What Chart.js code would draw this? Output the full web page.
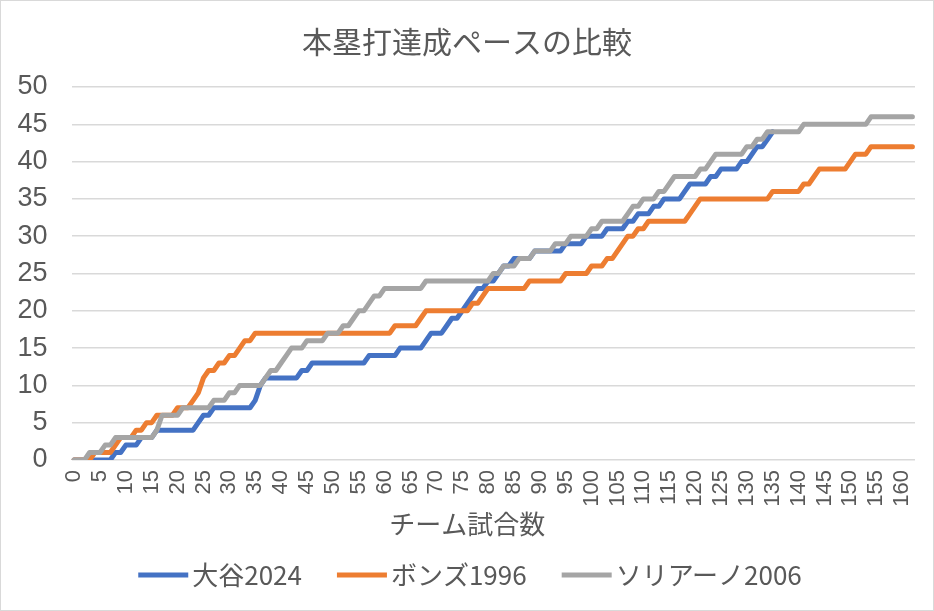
<!DOCTYPE html>
<html>
<head>
<meta charset="utf-8">
<script src="https://cdn.jsdelivr.net/npm/chart.js@4"></script>
<style>
html,body{margin:0;padding:0;background:#fff;}
#wrap{width:934px;height:611px;position:relative;}
</style>
</head>
<body>
<div id="wrap"><canvas id="c" width="934" height="611"></canvas></div>
<script>
// チーム試合数 (0..162)
const games = Array.from({length: 163}, (_, i) => String(i));
const seriesNames = ['大谷2024', 'ボンズ1996', 'ソリアーノ2006'];
const seriesColors = ['#4472C4', '#ED7D31', '#A5A5A5'];

const ohtani2024 = [
  0,0,0,0,0,0,0,0,1,1,
  2,2,2,3,3,3,4,4,4,4,
  4,4,4,4,5,6,6,7,7,7,
  7,7,7,7,7,8,10,11,11,11,
  11,11,11,11,12,12,13,13,13,13,
  13,13,13,13,13,13,13,14,14,14,
  14,14,14,15,15,15,15,15,16,17,
  17,17,18,19,19,20,21,22,23,23,
  24,24,25,26,26,27,27,27,27,28,
  28,28,28,28,28,29,29,29,29,30,
  30,30,30,31,31,31,31,32,32,33,
  33,33,34,34,35,35,35,35,36,37,
  37,37,37,38,38,39,39,39,39,40,
  40,41,42,42,43,44
];
const bonds1996 = [
  0,0,0,0,1,1,1,1,2,3,
  3,3,4,4,5,5,6,6,6,6,
  7,7,7,8,9,11,12,12,13,13,
  14,14,15,16,16,17,17,17,17,17,
  17,17,17,17,17,17,17,17,17,17,
  17,17,17,17,17,17,17,17,17,17,
  17,17,18,18,18,18,18,19,20,20,
  20,20,20,20,20,20,20,21,21,22,
  23,23,23,23,23,23,23,23,24,24,
  24,24,24,24,24,25,25,25,25,25,
  26,26,26,27,27,28,29,30,30,31,
  31,32,32,32,32,32,32,32,32,33,
  34,35,35,35,35,35,35,35,35,35,
  35,35,35,35,35,36,36,36,36,36,
  36,37,37,38,39,39,39,39,39,39,
  40,41,41,41,42,42,42,42,42,42,
  42,42,42
];
const soriano2006 = [
  0,0,0,1,1,1,2,2,3,3,
  3,3,3,3,3,3,4,6,6,6,
  6,7,7,7,7,7,7,8,8,8,
  9,9,10,10,10,10,10,11,12,12,
  13,14,15,15,15,16,16,16,16,17,
  17,17,18,18,19,20,20,21,22,22,
  23,23,23,23,23,23,23,23,24,24,
  24,24,24,24,24,24,24,24,24,24,
  24,25,25,26,26,26,27,27,27,28,
  28,28,28,29,29,29,30,30,30,30,
  31,31,32,32,32,32,32,33,34,34,
  35,35,35,36,36,37,38,38,38,38,
  38,39,39,40,41,41,41,41,41,41,
  42,42,43,43,44,44,44,44,44,44,
  44,45,45,45,45,45,45,45,45,45,
  45,45,45,45,46,46,46,46,46,46,
  46,46,46
];
const yTicks = {min: 0, max: 50, step: 5};

const TEXT = '#595959';
const JP = "'Noto Sans CJK JP', 'Noto Sans', sans-serif";
const NUM = "'Liberation Sans', Arial, sans-serif";

function legendImage(color) {
  const c = document.createElement('canvas');
  c.width = 90; c.height = 10;
  const x = c.getContext('2d');
  x.strokeStyle = color; x.lineWidth = 5; x.lineCap = 'butt';
  x.beginPath(); x.moveTo(37, 5); x.lineTo(87, 5); x.stroke();
  return c;
}
const legendImgs = seriesColors.map(legendImage);

const frame = {
  id: 'frame',
  afterLayout(chart) {
    const t = chart.titleBlock;
    if (t) { t.left = 0; t.right = chart.width; t.width = chart.width; }
  },
  beforeDraw(chart) {
    const ctx = chart.ctx;
    ctx.save(); ctx.fillStyle = '#fff'; ctx.fillRect(0, 0, chart.width, chart.height); ctx.restore();
  },
  afterDraw(chart) {
    const ctx = chart.ctx;
    ctx.save(); ctx.strokeStyle = '#D9D9D9'; ctx.lineWidth = 1;
    ctx.strokeRect(0.5, 0.5, chart.width - 1, chart.height - 1); ctx.restore();
  }
};

const allSeries = [ohtani2024, bonds1996, soriano2006];
new Chart(document.getElementById('c'), {
  type: 'line',
  data: {
    labels: games,
    datasets: allSeries.map((d, i) => ({
      label: seriesNames[i],
      data: d,
      borderColor: seriesColors[i],
      backgroundColor: seriesColors[i],
      borderWidth: 5,
      pointRadius: 0,
      pointHoverRadius: 0,
      tension: 0,
      borderJoinStyle: 'round',
      borderCapStyle: 'round',
      fill: false,
      order: 3 - i
    }))
  },
  options: {
    responsive: false,
    animation: false,
    events: [],
    layout: {padding: {left: 0, right: 19, top: 0, bottom: 13}},
    plugins: {
      title: {
        display: true,
        text: '本塁打達成ペースの比較',
        color: TEXT,
        font: {family: JP, size: 30, weight: 'normal'},
        padding: {top: 24, bottom: 27}
      },
      legend: {
        position: 'bottom',
        labels: {
          usePointStyle: true,
          pointStyleWidth: 66,
          padding: 10,
          color: TEXT,
          font: {family: JP, size: 26},
          sort: (a, b) => a.datasetIndex - b.datasetIndex,
          generateLabels(chart) {
            const items = Chart.defaults.plugins.legend.labels.generateLabels(chart);
            items.forEach(it => { it.pointStyle = legendImgs[it.datasetIndex]; });
            return items;
          }
        }
      },
      tooltip: {enabled: false}
    },
    scales: {
      x: {
        type: 'category',
        offset: true,
        grid: {display: false, drawTicks: false},
        border: {display: false},
        ticks: {
          autoSkip: false,
          minRotation: 90,
          maxRotation: 90,
          padding: 10,
          color: TEXT,
          font: {family: NUM, size: 22},
          callback(value, index) { return index % 5 === 0 ? games[index] : ''; }
        },
        title: {
          display: true,
          text: 'チーム試合数\u3000\u3000',
          color: TEXT,
          font: {family: JP, size: 26},
          padding: {top: 0, bottom: 12}
        },
        afterFit(scale) {
          scale.height = 92;
          scale.paddingLeft = 0;
          scale.paddingRight = 0;
        }
      },
      y: {
        min: yTicks.min,
        max: yTicks.max,
        grid: {color: '#D9D9D9', lineWidth: 1.5, drawTicks: false},
        border: {display: false},
        ticks: {
          stepSize: yTicks.step,
          padding: 24,
          color: TEXT,
          font: {family: NUM, size: 27}
        },
        afterFit(scale) { scale.width = 71.5; }
      }
    }
  },
  plugins: [frame]
});
</script>
</body>
</html>
